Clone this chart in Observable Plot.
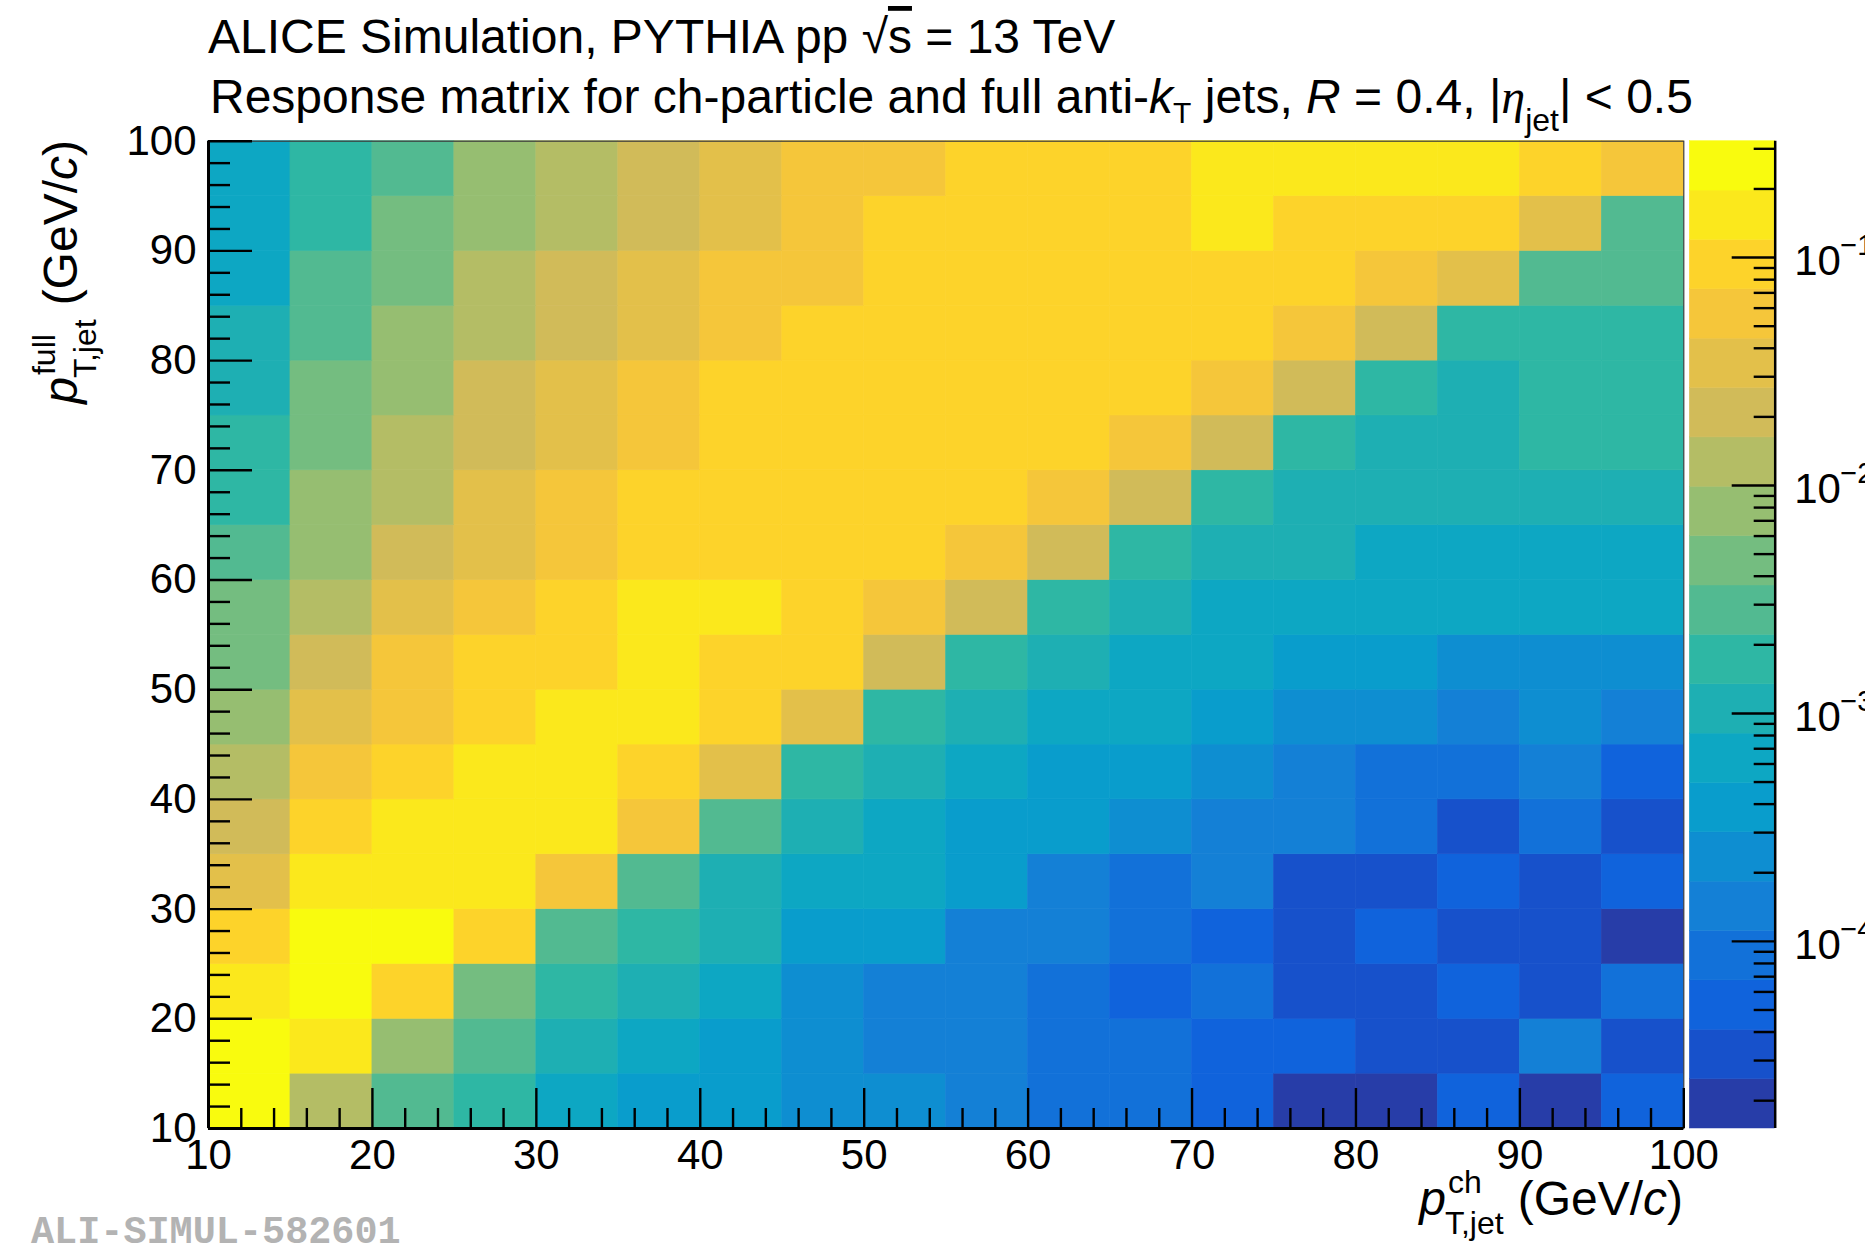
<!DOCTYPE html>
<html><head><meta charset="utf-8">
<script src="https://cdn.jsdelivr.net/npm/d3@7"></script>
<script src="https://cdn.jsdelivr.net/npm/@observablehq/plot@0.6"></script>
<style>
html,body{margin:0;padding:0;background:#fff;}
body{width:1865px;height:1246px;position:relative;overflow:hidden;font-family:"Liberation Sans",Arial,Helvetica,sans-serif;}
#main,#cbar{position:absolute;top:0;}
#main{left:0;} #cbar{left:1600px;}
</style></head><body>
<div id="main"></div><div id="cbar"></div>
<script>
// ---------------- data ----------------
const ptChEdges   = [10,15,20,25,30,35,40,45,50,55,60,65,70,75,80,85,90,95,100];
const ptFullEdges = [10,15,20,25,30,35,40,45,50,55,60,65,70,75,80,85,90,95,100];

// rows: p_T^full bins; columns: p_T^ch bins 10-15 ... 95-100
const full10_15  = [0.25,1.26e-2,2.8e-3,1.7e-3,6.4e-4,3.9e-4,3.9e-4,2.4e-4,2.4e-4,1.4e-4,8.7e-5,8.7e-5,5.3e-5,1.9e-5,1.9e-5,5.3e-5,1.9e-5,5.3e-5];
const full15_20  = [0.25,0.15,7.7e-3,2.8e-3,1.05e-3,6.4e-4,3.9e-4,2.4e-4,1.4e-4,1.4e-4,8.7e-5,8.7e-5,5.3e-5,5.3e-5,3.2e-5,3.2e-5,1.4e-4,3.2e-5];
const full20_25  = [0.15,0.25,9.3e-2,4.7e-3,1.7e-3,1.05e-3,6.4e-4,2.4e-4,1.4e-4,1.4e-4,8.7e-5,5.3e-5,8.7e-5,3.2e-5,3.2e-5,5.3e-5,3.2e-5,8.7e-5];
const full25_30  = [9.3e-2,0.25,0.25,9.3e-2,2.8e-3,1.7e-3,1.05e-3,3.9e-4,3.9e-4,1.4e-4,1.4e-4,8.7e-5,5.3e-5,3.2e-5,5.3e-5,3.2e-5,3.2e-5,1.9e-5];
const full30_35  = [3.4e-2,0.15,0.15,0.15,5.6e-2,2.8e-3,1.05e-3,6.4e-4,6.4e-4,3.9e-4,1.4e-4,8.7e-5,1.4e-4,3.2e-5,3.2e-5,5.3e-5,3.2e-5,5.3e-5];
const full35_40  = [2.1e-2,9.3e-2,0.15,0.15,0.15,5.6e-2,2.8e-3,1.05e-3,6.4e-4,3.9e-4,3.9e-4,2.4e-4,1.4e-4,1.4e-4,8.7e-5,3.2e-5,8.7e-5,3.2e-5];
const full40_45  = [1.26e-2,5.6e-2,9.3e-2,0.15,0.15,9.3e-2,3.4e-2,1.7e-3,1.05e-3,6.4e-4,3.9e-4,3.9e-4,2.4e-4,1.4e-4,8.7e-5,8.7e-5,1.4e-4,5.3e-5];
const full45_50  = [7.7e-3,3.4e-2,5.6e-2,9.3e-2,0.15,0.15,9.3e-2,3.4e-2,1.7e-3,1.05e-3,6.4e-4,6.4e-4,3.9e-4,2.4e-4,2.4e-4,1.4e-4,2.4e-4,1.4e-4];
const full50_55  = [4.7e-3,2.1e-2,5.6e-2,9.3e-2,9.3e-2,0.15,9.3e-2,9.3e-2,2.1e-2,1.7e-3,1.05e-3,6.4e-4,6.4e-4,3.9e-4,3.9e-4,2.4e-4,2.4e-4,2.4e-4];
const full55_60  = [4.7e-3,1.26e-2,3.4e-2,5.6e-2,9.3e-2,0.15,0.15,9.3e-2,5.6e-2,2.1e-2,1.7e-3,1.05e-3,6.4e-4,6.4e-4,6.4e-4,6.4e-4,6.4e-4,6.4e-4];
const full60_65  = [2.8e-3,7.7e-3,2.1e-2,3.4e-2,5.6e-2,9.3e-2,9.3e-2,9.3e-2,9.3e-2,5.6e-2,2.1e-2,1.7e-3,1.05e-3,1.05e-3,6.4e-4,6.4e-4,6.4e-4,6.4e-4];
const full65_70  = [1.7e-3,7.7e-3,1.26e-2,3.4e-2,5.6e-2,9.3e-2,9.3e-2,9.3e-2,9.3e-2,9.3e-2,5.6e-2,2.1e-2,1.7e-3,1.05e-3,1.05e-3,1.05e-3,1.05e-3,1.05e-3];
const full70_75  = [1.7e-3,4.7e-3,1.26e-2,2.1e-2,3.4e-2,5.6e-2,9.3e-2,9.3e-2,9.3e-2,9.3e-2,9.3e-2,5.6e-2,2.1e-2,1.7e-3,1.05e-3,1.05e-3,1.7e-3,1.7e-3];
const full75_80  = [1.05e-3,4.7e-3,7.7e-3,2.1e-2,3.4e-2,5.6e-2,9.3e-2,9.3e-2,9.3e-2,9.3e-2,9.3e-2,9.3e-2,5.6e-2,2.1e-2,1.7e-3,1.05e-3,1.7e-3,1.7e-3];
const full80_85  = [1.05e-3,2.8e-3,7.7e-3,1.26e-2,2.1e-2,3.4e-2,5.6e-2,9.3e-2,9.3e-2,9.3e-2,9.3e-2,9.3e-2,9.3e-2,5.6e-2,2.1e-2,1.7e-3,1.7e-3,1.7e-3];
const full85_90  = [6.4e-4,2.8e-3,4.7e-3,1.26e-2,2.1e-2,3.4e-2,5.6e-2,5.6e-2,9.3e-2,9.3e-2,9.3e-2,9.3e-2,9.3e-2,9.3e-2,5.6e-2,3.4e-2,2.8e-3,2.8e-3];
const full90_95  = [6.4e-4,1.7e-3,4.7e-3,7.7e-3,1.26e-2,2.1e-2,3.4e-2,5.6e-2,9.3e-2,9.3e-2,9.3e-2,9.3e-2,0.15,9.3e-2,9.3e-2,9.3e-2,3.4e-2,2.8e-3];
const full95_100 = [6.4e-4,1.7e-3,2.8e-3,7.7e-3,1.26e-2,2.1e-2,3.4e-2,5.6e-2,5.6e-2,9.3e-2,9.3e-2,9.3e-2,0.15,0.15,0.15,0.15,9.3e-2,5.6e-2];

const xTickLabels = [10,20,30,40,50,60,70,80,90,100];
const yTickLabels = [10,20,30,40,50,60,70,80,90,100];
const zTickLabels = [1e-4,1e-3,1e-2,1e-1];
const zMin = 1.51e-5, zMax = 0.324;
const nContours = 20;

// ---------------- palette (ROOT kBird) ----------------
const birdStops = [0,0.125,0.25,0.375,0.5,0.625,0.75,0.875,1];
const birdR = [0.2082,0.0592,0.0780,0.0232,0.1802,0.5301,0.8186,0.9956,0.9764];
const birdG = [0.1664,0.3599,0.5041,0.6419,0.7178,0.7492,0.7328,0.7862,0.9832];
const birdB = [0.5293,0.8684,0.8385,0.7914,0.6425,0.4662,0.3499,0.1968,0.0539];
function bird(t){
  const i = Math.min(7, Math.floor(t/0.125));
  const f = (t-birdStops[i])/(birdStops[i+1]-birdStops[i]);
  const c = a => Math.round(255*(a[i]+(a[i+1]-a[i])*f));
  return `rgb(${c(birdR)},${c(birdG)},${c(birdB)})`;
}
const colors = d3.range(nContours).map(i => bird(Math.floor((i+0.99)*255/nContours)/254));
const lzMin = Math.log10(zMin), lzMax = Math.log10(zMax), lstep = (lzMax-lzMin)/nContours;
const levels = d3.range(nContours+1).map(k => 10**(lzMin+k*lstep));
const thresholds = levels.slice(1,-1);
const colorScale = {type:"threshold", domain: thresholds, range: colors};

// ---------------- geometry ----------------
const FONT = '"Liberation Sans", Arial, Helvetica, sans-serif';
const W = 1690, H = 1246;
const mL = 208, mR = W-1683.3, mT = 140.7, mB = H-1128;
const plotW = W-mL-mR, plotH = H-mT-mB;

const rows = [full10_15,full15_20,full20_25,full25_30,full30_35,full35_40,full40_45,full45_50,full50_55,
              full55_60,full60_65,full65_70,full70_75,full75_80,full80_85,full85_90,full90_95,full95_100];
const cells = rows.flatMap((row,j) => row.map((v,i) => ({
  x1: ptChEdges[i], x2: ptChEdges[i+1], y1: ptFullEdges[j], y2: ptFullEdges[j+1], v})));

const xMinor = d3.range(ptChEdges[0], ptChEdges[ptChEdges.length-1]+1, 2).filter(d => d%10);
const yMinor = d3.range(ptFullEdges[0], ptFullEdges[ptFullEdges.length-1]+1, 2).filter(d => d%10);
const xDom = [ptChEdges[0], ptChEdges[ptChEdges.length-1]];
const yDom = [ptFullEdges[0], ptFullEdges[ptFullEdges.length-1]];

const main = Plot.plot({
  width: W, height: H, marginLeft: mL, marginRight: mR, marginTop: mT, marginBottom: mB,
  x: {domain: xDom, axis: null},
  y: {domain: yDom, axis: null},
  color: colorScale,
  style: {fontFamily: FONT, background: "transparent", color: "black", overflow: "visible"},
  marks: [
    Plot.rect(cells, {x1:"x1", x2:"x2", y1:"y1", y2:"y2", fill:"v", stroke:"v", strokeWidth:0.6}),
    Plot.frame({stroke:"#3c3c3c", strokeWidth:1.2}),
    Plot.tickX(xTickLabels, {x: d=>d, insetTop: plotH-40, stroke:"black", strokeWidth:2.4}),
    Plot.tickX(xMinor, {x: d=>d, insetTop: plotH-20, stroke:"black", strokeWidth:2.4}),
    Plot.tickY(yTickLabels, {y: d=>d, insetRight: plotW-44, stroke:"black", strokeWidth:2.4}),
    Plot.tickY(yMinor, {y: d=>d, insetRight: plotW-22, stroke:"black", strokeWidth:2.4}),
    Plot.ruleX([xDom[0]], {stroke:"black", strokeWidth:3}),
    Plot.ruleY([yDom[0]], {stroke:"black", strokeWidth:3}),
    Plot.text(xTickLabels, {x: d=>d, text: d=>String(d), frameAnchor:"bottom", lineAnchor:"top", dy: 11, fontSize: 42, fill:"black"}),
    Plot.text(yTickLabels, {y: d=>d, text: d=>String(d), frameAnchor:"left", textAnchor:"end", dx: -12, fontSize: 42, fill:"black"})
  ]
});
document.getElementById("main").appendChild(main);

// ---------------- colour bar ----------------
const CW = 265;
const cL = 1689.3-1600, cR = CW-(1774.7-1600);
const cbW = CW-cL-cR;
const bands = d3.range(nContours).map(k => ({lo: levels[k], hi: levels[k+1], mid: Math.sqrt(levels[k]*levels[k+1])}));
const zMinor = [];
for (let e = -5; e <= -1; e++) for (let m = 2; m <= 9; m++) { const v = m*10**e; if (v > zMin && v < zMax) zMinor.push(v); }

const cbar = Plot.plot({
  width: CW, height: H, marginLeft: cL, marginRight: cR, marginTop: mT, marginBottom: mB,
  x: {domain:[0,1], axis:null},
  y: {type:"log", domain:[zMin, zMax], axis:null},
  color: colorScale,
  style: {fontFamily: FONT, background:"transparent", color:"black", overflow:"visible"},
  marks: [
    Plot.rect(bands, {y1:"lo", y2:"hi", fill:"mid", stroke:"mid", strokeWidth:0.5}),
    Plot.tickY(zTickLabels, {y:d=>d, insetLeft: cbW-43, stroke:"black", strokeWidth:2.4}),
    Plot.tickY(zMinor, {y:d=>d, insetLeft: cbW-21, stroke:"black", strokeWidth:2.4}),
    Plot.ruleX([1], {stroke:"black", strokeWidth:2.5}),
    Plot.text(zTickLabels, {y:d=>d, text:()=>"10", frameAnchor:"right", textAnchor:"start", dx: 19, dy: 4, fontSize: 42, fill:"black"}),
    Plot.text(zTickLabels, {y:d=>d, text:d=>"\u2212"+Math.round(-Math.log10(d)), frameAnchor:"right", textAnchor:"start", dx: 65, dy: -12, fontSize: 29, fill:"black"})
  ]
});
document.getElementById("cbar").appendChild(cbar);

// ---------------- titles (overlay) ----------------
const ov = d3.select("body").append("svg")
  .attr("width",1865).attr("height",1246)
  .style("position","absolute").style("left","0px").style("top","0px")
  .attr("font-family", FONT).attr("fill","black");

const t1 = ov.append("text").attr("x",208).attr("y",53).attr("font-size",48);
t1.append("tspan").text("ALICE Simulation, PYTHIA pp ");
t1.append("tspan").text("\u221A");
t1.append("tspan").style("text-decoration","overline").text("s");
t1.append("tspan").text(" = 13 TeV");

const t2 = ov.append("text").attr("x",210).attr("y",113).attr("font-size",48);
t2.append("tspan").text("Response matrix for ch-particle and full anti-");
t2.append("tspan").attr("font-style","italic").text("k");
t2.append("tspan").attr("font-size",30).attr("dy",10).text("T");
t2.append("tspan").attr("dy",-10).text(" jets, ");
t2.append("tspan").attr("font-style","italic").text("R");
t2.append("tspan").text(" = 0.4, |");
t2.append("tspan").attr("font-style","italic").attr("font-family","Liberation Serif, serif").text("\u03B7");
t2.append("tspan").attr("font-size",32).attr("dy",18).text("jet");
t2.append("tspan").attr("dy",-18).text("| < 0.5");

function axisTitle(g, sup, sub){
  const fs = 48, fss = 32;
  const p = g.append("text").attr("x",0).attr("y",0).attr("font-size",fs).attr("font-style","italic").text("p");
  const pw = p.node().getComputedTextLength();
  const s1 = g.append("text").attr("x",pw+2).attr("y",-22).attr("font-size",fss).text(sup);
  const s2 = g.append("text").attr("x",pw-1).attr("y",19).attr("font-size",fss).text(sub);
  const end = Math.max(pw+2+s1.node().getComputedTextLength(), pw-1+s2.node().getComputedTextLength());
  const rest = g.append("text").attr("x",end+14).attr("y",0).attr("font-size",fs);
  rest.append("tspan").text("(GeV/");
  rest.append("tspan").attr("font-style","italic").text("c");
  rest.append("tspan").text(")");
  return end + 14 + rest.node().getComputedTextLength();
}
const gx = ov.append("g");
const wx = axisTitle(gx, "ch", "T,jet");
gx.attr("transform", `translate(${1683-wx},1215)`);
const gy = ov.append("g");
const wy = axisTitle(gy, "full", "T,jet");
gy.attr("transform", `translate(77,${140+wy}) rotate(-90)`);

ov.append("text").attr("x",31).attr("y",1243)
  .attr("font-family","Liberation Mono, Courier New, monospace").attr("font-weight","bold")
  .attr("font-size",38.5).attr("fill","#b3b3b3").text("ALI-SIMUL-582601");
</script>
</body></html>
